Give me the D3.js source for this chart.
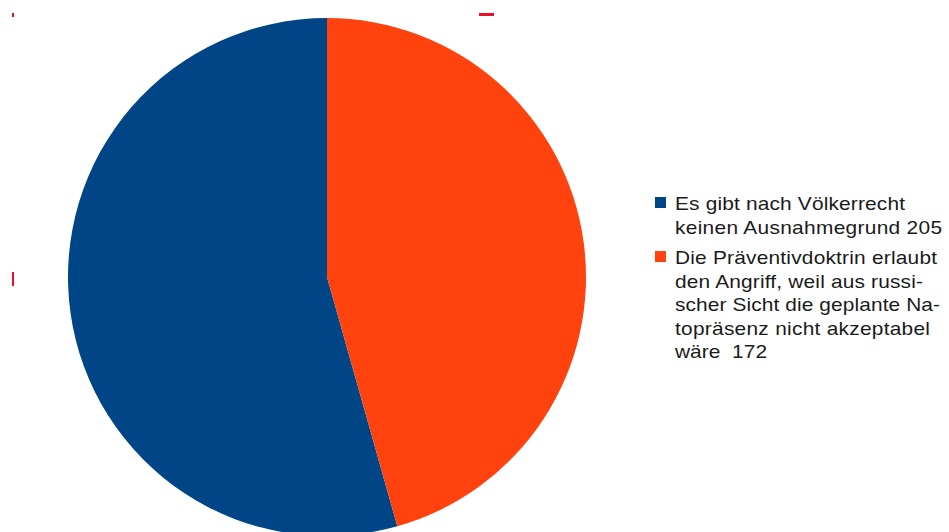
<!DOCTYPE html>
<html>
<head>
<meta charset="utf-8">
<script src="https://cdn.jsdelivr.net/npm/d3@7"></script>
<style>
  body { margin: 0; background: #fff; }
  svg { display: block; }
  .legend text { font-family: "Liberation Sans", Arial, sans-serif; font-size: 18.3px; fill: #1a1a1a; white-space: pre; }
</style>
</head>
<body>
<div id="chart"></div>
<script>
"use strict"

// Data
const categories = ["Es gibt nach Völkerrecht keinen Ausnahmegrund", "Die Präventivdoktrin erlaubt den Angriff, weil aus russischer Sicht die geplante Natopräsenz nicht akzeptabel wäre"];
const values = [205, 172];
const colors = ["#004586", "#ff420e"];

// Legend text as it wraps in the picture
const legendLines = [
  ["Es gibt nach Völkerrecht", "keinen Ausnahmegrund 205"],
  ["Die Präventivdoktrin erlaubt", "den Angriff, weil aus russi-", "scher Sicht die geplante Na-", "topräsenz nicht akzeptabel", "wäre  172"]
];

const figWidth = 949;
const figHeight = 532;

const center = {x: 327, y: 277};
const radius = 259;

const svg = d3.select("#chart").append("svg")
  .attr("width", figWidth)
  .attr("height", figHeight);

// Pie: second slice starts at 12 o'clock going clockwise, first one fills the rest
const data = categories.map((c, i) => ({name: c, value: values[i], color: colors[i]}));
const total = d3.sum(values);
const orangeAngle = 2 * Math.PI * values[1] / total;

const pie = d3.pie()
  .value(d => d.value)
  .sort(null)
  .startAngle(orangeAngle)
  .endAngle(orangeAngle + 2 * Math.PI);

const arc = d3.arc()
  .innerRadius(0)
  .outerRadius(radius);

svg.append("g")
  .attr("transform", translate(center.x, center.y))
  .selectAll("path")
  .data(pie(data))
  .enter().append("path")
    .attr("d", arc)
    .attr("fill", d => d.data.color);

// Legend
const legend = svg.append("g")
  .attr("class", "legend");

// the picture's glyphs are wider than the local font: stretch them a bit, then fit each line
const stretch = 1.14;
const lineWidths = [[230, 267], [262, 248, 265, 255, 92]];
const textX = 675;
const lineHeight = 23.5;
const entryGap = 7;
let y = 210;

legendLines.forEach((lines, i) => {
  legend.append("rect")
    .attr("x", 655)
    .attr("y", y - 13)
    .attr("width", 11)
    .attr("height", 11)
    .attr("fill", colors[i]);

  lines.forEach((line, j) => {
    legend.append("text")
      .attr("transform", `${translate(textX, y + j * lineHeight)}scale(${stretch}, 1)`)
      .attr("textLength", lineWidths[i][j] / stretch)
      .attr("lengthAdjust", "spacing")
      .text(line);
  });
  y += lines.length * lineHeight + entryGap;
});

// small selection marks in the picture
const marks = [
  {x: 479, y: 13, w: 15, h: 3},
  {x: 12, y: 13, w: 2, h: 4},
  {x: 12, y: 272, w: 2, h: 14}
];
svg.selectAll("rect.mark")
  .data(marks)
  .enter().append("rect")
    .attr("class", "mark")
    .attr("x", d => d.x)
    .attr("y", d => d.y)
    .attr("width", d => d.w)
    .attr("height", d => d.h)
    .attr("fill", "#e8102a");

function translate(x, y) {
  return `translate(${x}, ${y})`;
}
</script>
</body>
</html>
